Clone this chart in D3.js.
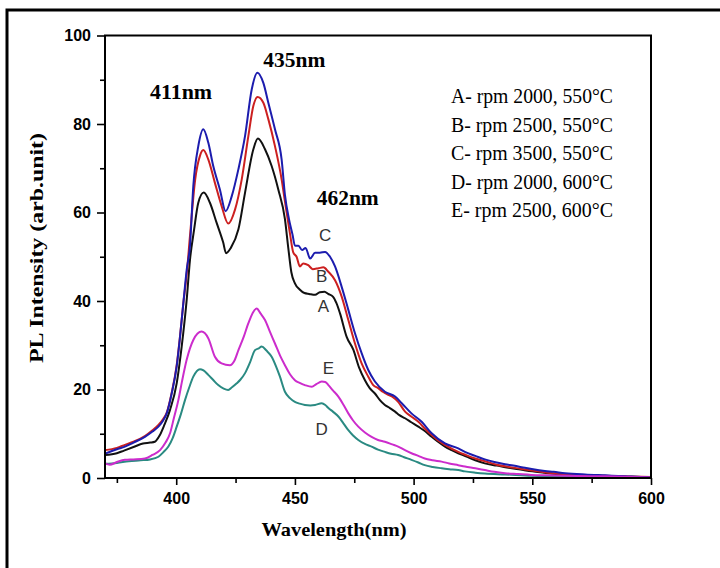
<!DOCTYPE html>
<html>
<head>
<meta charset="utf-8">
<style>
  body { margin: 0; background: #fff; }
</style>
</head>
<body>
<svg width="720" height="568"></svg>

<script src="https://d3js.org/d3.v7.min.js"></script>
<script>

	// PL spectra of five samples (spin speed / annealing temperature)

	// axis ticks
	const xTicks = [400, 450, 500, 550, 600]
	const xMinor = [375, 425, 475, 525, 575]
	const yTicks = [0, 20, 40, 60, 80, 100]
	const yMinor = [10, 30, 50, 70, 90]

	const legendLabels = [
		"A- rpm 2000, 550°C",
		"B- rpm 2500, 550°C",
		"C- rpm 3500, 550°C",
		"D- rpm 2000, 600°C",
		"E- rpm 2500, 600°C"
	]
	const peakLabels = ["411nm", "435nm", "462nm"]
	const curveNames = ["A", "B", "C", "D", "E"]

	// [wavelength nm, intensity]
	const seriesA = [
		[370,5.2],[375,5.6],[378,6.2],[382,7.0],[386,7.8],[389,8.0],[391,8.2],[393,9.6],[395,12.0],
		[397.4,15.4],[400.2,21.4],[402.3,29.7],[404.4,40.2],[405.8,49.3],[407.5,56],[409.3,62.2],
		[411.6,64.5],[414.2,62.2],[417,57.7],[419.8,53.2],[421,50.8],[423,52],[426.2,56.2],[429,64.5],
		[432.5,74.3],[434.4,76.7],[437.4,74.3],[440.2,70.5],[443,65.2],[445.8,58.5],[447.2,52],
		[448.5,46.5],[450,44],[452,42.6],[454,41.8],[456,41.6],[458.5,41.4],[460.5,42],[462.5,42.1],
		[464,41.6],[466,41.0],[467.5,39.5],[469,37.2],[471.8,31.9],[474.6,29.0],[477,25],[479.5,22.1],
		[481.5,20.3],[483.7,19.1],[485.8,17.6],[487.9,16.5],[490,15.8],[492.2,15.0],[494,14.2],
		[496.4,13.5],[499,12.6],[502,11.6],[505,10.5],[507.6,9.3],[510,8.3],[513.2,7.1],[516,6.3],
		[518.8,5.6],[522,4.9],[526,4.0],[530,3.3],[535,2.8],[540,2.3],[545,1.9],[550,1.5],[555,1.2],
		[560,0.9],[570,0.6],[580,0.45],[590,0.3],[600,0.15]
	]
	const seriesB = [
		[370,6.3],[375,6.8],[378.4,7.5],[382,8.2],[386.8,9.5],[390,10.8],[392.5,12.0],[394.5,13.3],
		[396,14.8],[398.1,19.3],[400.2,25.5],[401.6,32],[403,39.5],[404.4,46],[405.8,54.7],[408,67.5],
		[410,72.8],[411.4,74.1],[413.5,72],[416.3,66.7],[419.1,61.5],[421.9,57.5],[424.8,60.7],
		[427.6,67.5],[430.4,77.3],[432.5,84.1],[434.3,86.1],[436.7,84.8],[438.8,81.1],[441.6,75.0],
		[444.4,67.5],[445.8,62.5],[447.9,55.3],[449.3,51],[450.7,50.0],[452.1,47.8],[453.5,48.5],
		[455.6,48.1],[457.5,47.2],[459.9,47.4],[462,47.6],[464.1,46.6],[466.9,44.7],[469.7,41.0],
		[472.5,35.7],[475.3,30.4],[478.1,25.9],[480.9,22.9],[483,21.0],[485.1,20.3],[487,19.5],
		[489.3,18.8],[491,18.4],[493.5,17.2],[496.4,15.0],[499,13.9],[502,12.7],[505,11.0],[507.6,9.7],
		[510,8.6],[513.2,7.5],[518.8,5.9],[522,5.2],[526,4.4],[530,3.8],[535,3.0],[540,2.5],[545,2.1],
		[550,1.7],[555,1.3],[560,1.0],[570,0.7],[580,0.5],[590,0.35],[600,0.2]
	]
	const seriesC = [
		[370,5.5],[375,6.5],[378.4,7.1],[382,8.0],[386.8,9.3],[390,10.5],[392.5,11.6],[394.5,13.0],
		[396,14.6],[398.1,19.1],[400.2,25.2],[401.6,31.9],[403,39.5],[404.4,47.0],[405.8,52.5],
		[407.2,66],[409.3,75],[411.4,78.8],[413.5,75.8],[415.6,70.5],[418.4,65.2],[420.8,60.3],
		[423.4,63.7],[426.2,69.8],[429,77.3],[431.8,87.8],[434.2,91.6],[436.7,89.3],[438.8,84.8],
		[441.6,78.8],[444.4,72.0],[445.8,64],[447.5,58.5],[449,55],[450,52.5],[451.5,52.5],[453,51.5],
		[454.5,52],[456.4,49.6],[458.5,50.9],[460.5,50.9],[462.7,51.1],[464.8,50.0],[466.9,47.8],
		[469.7,43.2],[472.5,38.0],[475.3,32.7],[478.1,28.2],[480.9,24.4],[483.7,21.8],[487.9,19.5],
		[492.2,18.4],[495,16.9],[499.1,14.6],[503.4,12.7],[507.6,10.1],[513.2,7.8],[518.8,6.7],
		[521.6,5.9],[526,5.0],[530,4.2],[534,3.6],[538.5,3.1],[542,2.8],[546.9,2.3],[551,1.9],
		[555.3,1.6],[559,1.4],[563.8,1.1],[572.2,0.8],[580.6,0.6],[589,0.4],[598.7,0.15],[600,0.1]
	]
	const seriesD = [
		[370,3.2],[375,3.4],[380,3.8],[385,4.0],[389,4.2],[392.5,4.8],[394.5,5.8],[396.7,7.1],
		[398.5,9.0],[400.2,11.6],[402,14.5],[403.7,17.6],[405.5,20.5],[407.2,22.9],[410,24.6],
		[411.5,24.3],[413.5,23.3],[415.5,22.2],[417.7,21.0],[420,20.2],[421.9,19.9],[423.5,20.5],
		[425.5,21.4],[427,22.2],[429,23.7],[431,26],[433.2,28.9],[434.8,29.3],[436,29.7],[438,28.8],
		[440.2,27.4],[442,25.3],[443.7,22.9],[445.8,19.5],[448,18.0],[450,17.2],[452,16.8],[454.2,16.5],
		[456.5,16.4],[458.5,16.5],[461.3,16.9],[462.8,16.5],[464.1,15.8],[466,15.0],[468.3,13.9],
		[470.5,12.3],[472.5,10.8],[474.5,9.6],[476.7,8.6],[479.5,7.7],[482.3,7.1],[485,6.4],[487.9,5.9],
		[490.5,5.5],[493.5,5.2],[496,4.7],[499.1,4.1],[502,3.5],[504.7,2.9],[508,2.5],[511.8,2.2],
		[515,2.0],[518.8,1.8],[521.6,1.5],[526,1.2],[530,1.0],[538.5,0.8],[549.6,0.5],[560,0.35],
		[575,0.3],[590,0.2],[600,0.1]
	]
	const seriesE = [
		[370,3.3],[372,3.0],[375,3.6],[378.4,4.1],[382,4.2],[386.8,4.4],[390,5.2],[393.2,6.3],
		[395.5,8.0],[397.4,10.1],[399,13.5],[400.9,17.6],[402.5,22],[404.4,26.7],[407.2,31.2],
		[410.7,33.1],[413.5,31.6],[416.3,27.4],[419.1,25.9],[422.6,25.5],[424.5,26.5],[426.2,28.9],
		[428.5,32],[430.4,35.0],[433.9,38.3],[435.5,37.2],[437.4,35.7],[439.5,33],[441.6,30.4],
		[443.8,27.6],[445.8,25.5],[448,23.4],[450,22.1],[452,21.5],[454.2,21.0],[457.1,20.6],
		[459,21.2],[461.3,21.8],[462.8,21.7],[464.1,21.0],[466,19.8],[468.3,18.4],[470.5,16.5],
		[472.5,14.6],[474.5,13.0],[476.7,11.6],[479.5,10.3],[482.3,9.3],[485,8.6],[487.9,8.2],
		[491,7.6],[493.5,7.1],[496,6.4],[499.1,5.6],[502,5.0],[504.7,4.4],[508,4.0],[511.8,3.7],
		[515,3.3],[518.8,2.9],[521.6,2.6],[526,2.2],[530,1.8],[534,1.4],[538.5,1.1],[544,0.9],
		[549.6,0.7],[556,0.6],[563.8,0.5],[577,0.4],[590,0.3],[600,0.1]
	]

	const svg = d3.select("svg")

	// outer frame of the figure (runs off the bottom / right of the picture)
	svg.append("path")
		.attr("d", "M7,568V10H720")
		.attr("fill", "none")
		.attr("stroke", "#000")
		.attr("stroke-width", 3)

	const x = d3.scaleLinear().domain([370, 600]).range([105, 651])
	const y = d3.scaleLinear().domain([0, 100]).range([478, 35.5])

	// draw the curves
	const line = d3.line()
		.curve(d3.curveMonotoneX)
		.x(d => x(d[0]))
		.y(d => y(d[1]))

	const curves = [
		{ data: seriesD, color: "#2a8a82" },
		{ data: seriesA, color: "#111111" },
		{ data: seriesB, color: "#cc2020" },
		{ data: seriesC, color: "#1c1cae" },
		{ data: seriesE, color: "#cc2ccc" }
	]

	svg.append("g")
		.selectAll("path")
		.data(curves)
		.join("path")
			.attr("d", d => line(d.data))
			.attr("fill", "none")
			.attr("stroke", d => d.color)
			.attr("stroke-width", 2)
			.attr("stroke-linejoin", "round")

	// plot box
	svg.append("rect")
		.attr("x", x(370))
		.attr("y", y(100))
		.attr("width", x(600) - x(370))
		.attr("height", y(0) - y(100))
		.attr("fill", "none")
		.attr("stroke", "#000")
		.attr("stroke-width", 2)

	// axes
	const tickFont = g => g
		.attr("font-family", "'Liberation Sans', Arial, sans-serif")
		.attr("font-weight", "bold")
		.attr("font-size", 16)
		.call(g => g.select(".domain").remove())
		.call(g => g.selectAll("line").attr("stroke-width", 1.6))

	svg.append("g")
		.attr("transform", `translate(0,${y(0)})`)
		.call(d3.axisBottom(x).tickValues(xTicks).tickSize(7).tickPadding(8).tickSizeOuter(0))
		.call(tickFont)

	svg.append("g")
		.attr("transform", `translate(0,${y(0)})`)
		.call(d3.axisBottom(x).tickValues(xMinor).tickSize(5).tickFormat("").tickSizeOuter(0))
		.call(tickFont)

	svg.append("g")
		.attr("transform", `translate(${x(370)},0)`)
		.call(d3.axisLeft(y).tickValues(yTicks).tickSize(8).tickPadding(6).tickSizeOuter(0))
		.call(tickFont)

	svg.append("g")
		.attr("transform", `translate(${x(370)},0)`)
		.call(d3.axisLeft(y).tickValues(yMinor).tickSize(5).tickFormat("").tickSizeOuter(0))
		.call(tickFont)

	// axis titles
	svg.append("text")
		.attr("x", 334)
		.attr("y", 536)
		.attr("text-anchor", "middle")
		.attr("font-family", "'Liberation Serif', 'Times New Roman', serif")
		.attr("font-weight", "bold")
		.attr("font-size", 19)
		.attr("textLength", 145)
		.attr("lengthAdjust", "spacingAndGlyphs")
		.text("Wavelength(nm)")

	svg.append("text")
		.attr("transform", "translate(43,248) rotate(-90)")
		.attr("text-anchor", "middle")
		.attr("font-family", "'Liberation Serif', 'Times New Roman', serif")
		.attr("font-weight", "bold")
		.attr("font-size", 19)
		.attr("textLength", 230)
		.attr("lengthAdjust", "spacingAndGlyphs")
		.text("PL Intensity (arb.unit)")

	// peak annotations
	const peakPos = [[389, 85.7], [436.7, 92.9], [459.2, 61.7]]
	svg.append("g")
		.selectAll("text")
		.data(peakLabels)
		.join("text")
			.attr("x", (d, i) => x(peakPos[i][0]))
			.attr("y", (d, i) => y(peakPos[i][1]))
			.attr("font-family", "'Liberation Serif', 'Times New Roman', serif")
			.attr("font-weight", "bold")
			.attr("font-size", 20)
			.attr("textLength", 62)
			.attr("lengthAdjust", "spacingAndGlyphs")
			.text(d => d)

	// curve letters next to the 462 nm shoulder
	const letterPos = [[462, 38.9], [461.3, 45.6], [462.7, 54.9], [461.3, 11.2], [464.1, 24.8]]
	svg.append("g")
		.selectAll("text")
		.data(curveNames)
		.join("text")
			.attr("x", (d, i) => x(letterPos[i][0]))
			.attr("y", (d, i) => y(letterPos[i][1]))
			.attr("dy", "0.36em")
			.attr("text-anchor", "middle")
			.attr("font-family", "'Liberation Sans', Arial, sans-serif")
			.attr("font-size", 17)
			.attr("fill", "#333")
			.text(d => d)

	// legend text
	svg.append("g")
		.selectAll("text")
		.data(legendLabels)
		.join("text")
			.attr("x", 613)
			.attr("y", (d, i) => 103 + i * 28.5)
			.attr("text-anchor", "end")
			.attr("font-family", "'Liberation Serif', 'Times New Roman', serif")
			.attr("font-size", 21)
			.attr("textLength", 162)
			.attr("lengthAdjust", "spacingAndGlyphs")
			.text(d => d)

</script>
</body>
</html>
